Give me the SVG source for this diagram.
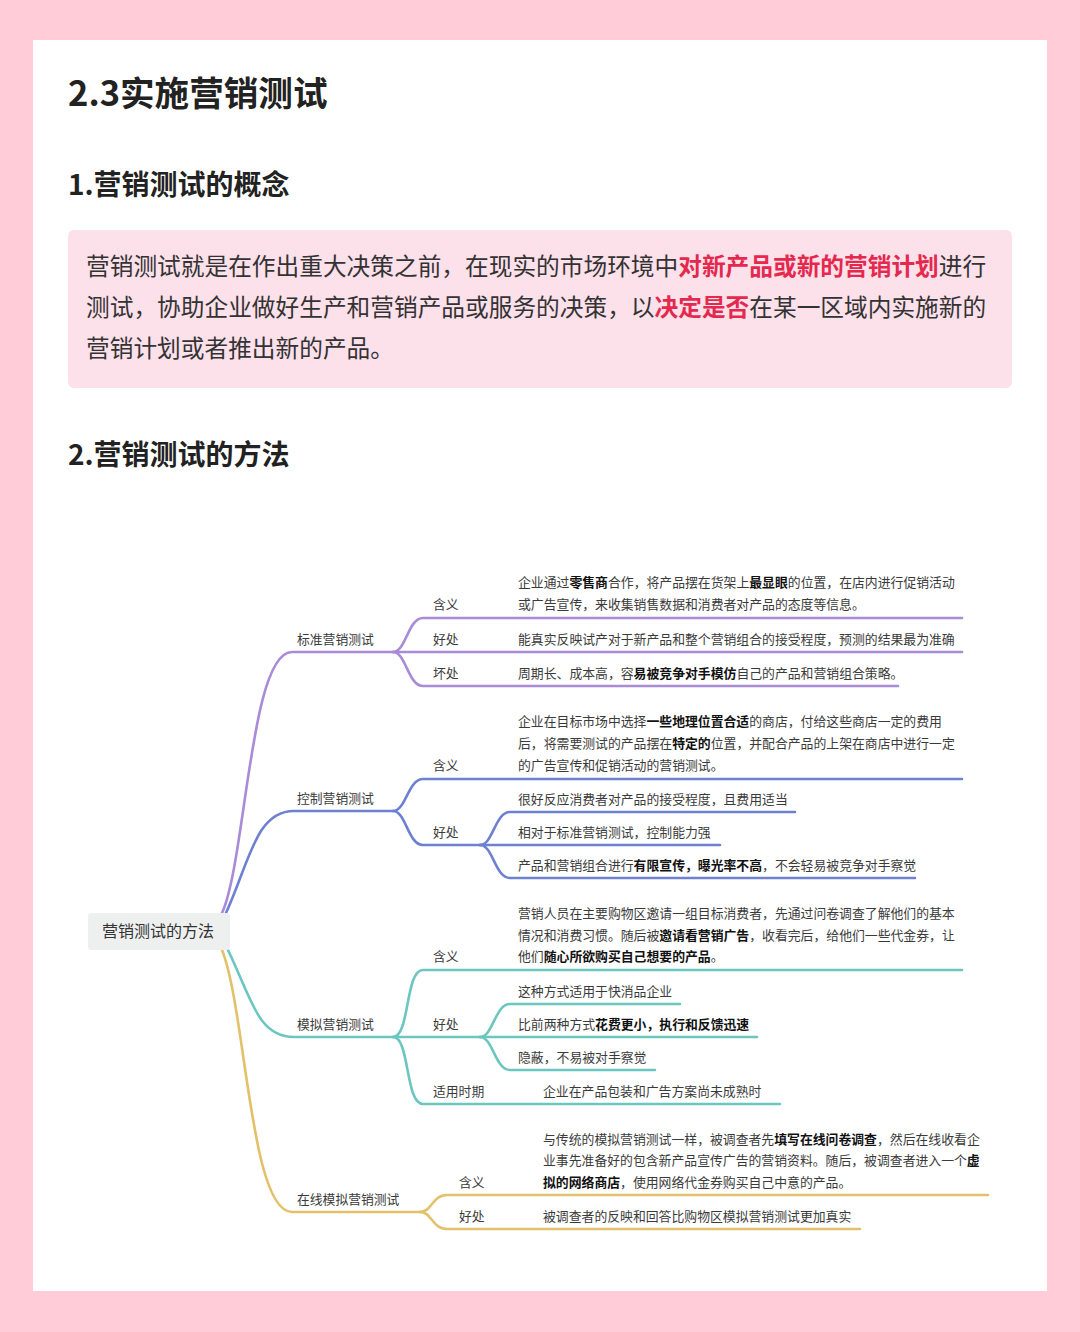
<svg xmlns="http://www.w3.org/2000/svg" width="1080" height="1332" viewBox="0 0 1080 1332">
<style>
.h1{font-family:"Noto Sans CJK SC","Noto Sans",sans-serif;font-weight:700;fill:#222}
.para{font-family:"Noto Sans CJK SC","Noto Sans",sans-serif;font-size:23.7px;fill:#333}
.red{fill:#E5284E;font-weight:700}
.t{font-family:"Noto Sans CJK SC","Noto Sans",sans-serif;font-size:12.85px;fill:#3a3a3a}
.lb{font-family:"Noto Sans CJK SC","Noto Sans",sans-serif;font-size:12.8px;fill:#3a3a3a}
.b{font-weight:700;fill:#111}
.ln{fill:none;stroke-width:2.6;stroke-linecap:round}
.pu{stroke:#A98BD8}.bl{stroke:#6E80D2}.te{stroke:#6CC6C0}.go{stroke:#E3C16B}
</style>
<rect x="0" y="0" width="1080" height="1332" fill="#FFCCD8"/>
<rect x="33" y="40" width="1014" height="1251" fill="#FFFFFF"/>
<g id="headings">
<text class="h1" x="68" y="106" font-size="34.6">2.3实施营销测试</text>
<text class="h1" x="68" y="195" font-size="28">1.营销测试的概念</text>
<text class="h1" x="68" y="465" font-size="28">2.营销测试的方法</text>
</g>
<g id="concept">
<rect x="68" y="230" width="944" height="158" rx="6" fill="#FCE0EA"/>
<text class="para" x="86" y="275">营销测试就是在作出重大决策之前，在现实的市场环境中<tspan class="red">对新产品或新的营销计划</tspan>进行</text>
<text class="para" x="86" y="316">测试，协助企业做好生产和营销产品或服务的决策，以<tspan class="red">决定是否</tspan>在某一区域内实施新的</text>
<text class="para" x="86" y="357">营销计划或者推出新的产品。</text>
</g>
<g id="connectors">
<path class="ln pu" d="M222,913 C246,860 250,652 292,652 L393,652"/>
<path class="ln pu" d="M393,652 C406,652 408,618 423,618 L962,618"/>
<path class="ln pu" d="M393,652 L962,652"/>
<path class="ln pu" d="M393,652 C406,652 408,686 423,686 L898,686"/>
<path class="ln bl" d="M226,913 C250,860 256,811 294,811 L393,811"/>
<path class="ln bl" d="M393,811 C406,811 408,779 423,779 L962,779"/>
<path class="ln bl" d="M393,811 C406,811 408,845 423,845 L480,845"/>
<path class="ln bl" d="M480,845 C493,845 495,812 510,812 L795,812"/>
<path class="ln bl" d="M480,845 L720,845"/>
<path class="ln bl" d="M480,845 C493,845 495,878 510,878 L915,878"/>
<path class="ln te" d="M228,950 C252,1000 258,1037 294,1037 L393,1037"/>
<path class="ln te" d="M393,1037 C410,1037 405,970 423,970 L962,970"/>
<path class="ln te" d="M393,1037 L480,1037"/>
<path class="ln te" d="M393,1037 C410,1037 405,1104 423,1104 L780,1104"/>
<path class="ln te" d="M480,1037 C493,1037 495,1004 510,1004 L680,1004"/>
<path class="ln te" d="M480,1037 L757,1037"/>
<path class="ln te" d="M480,1037 C493,1037 495,1070 510,1070 L655,1070"/>
<path class="ln go" d="M222,950 C246,1010 250,1212 292,1212 L420,1212"/>
<path class="ln go" d="M420,1212 C432,1212 432,1195 447,1195 L988,1195"/>
<path class="ln go" d="M420,1212 C432,1212 432,1229 447,1229 L860,1229"/>
</g>
<g id="root">
<rect x="88" y="913" width="142" height="37" rx="3" fill="#EEF0EF"/>
<text x="102" y="937" font-family="Noto Sans CJK SC, sans-serif" font-size="16" fill="#333">营销测试的方法</text>
</g>
<g id="standard">
<text class="lb" x="297" y="644">标准营销测试</text>
<text class="lb" x="433" y="609">含义</text>
<text class="t" x="518" y="587">企业通过<tspan class="b">零售商</tspan>合作，将产品摆在货架上<tspan class="b">最显眼</tspan>的位置，在店内进行促销活动</text>
<text class="t" x="518" y="609">或广告宣传，来收集销售数据和消费者对产品的态度等信息。</text>
<text class="lb" x="433" y="644">好处</text>
<text class="t" x="518" y="644">能真实反映试产对于新产品和整个营销组合的接受程度，预测的结果最为准确</text>
<text class="lb" x="433" y="678">坏处</text>
<text class="t" x="518" y="678">周期长、成本高，容<tspan class="b">易被竞争对手模仿</tspan>自己的产品和营销组合策略。</text>
</g>
<g id="control">
<text class="lb" x="297" y="803">控制营销测试</text>
<text class="lb" x="433" y="770">含义</text>
<text class="t" x="518" y="726">企业在目标市场中选择<tspan class="b">一些地理位置合适</tspan>的商店，付给这些商店一定的费用</text>
<text class="t" x="518" y="748">后，将需要测试的产品摆在<tspan class="b">特定的</tspan>位置，并配合产品的上架在商店中进行一定</text>
<text class="t" x="518" y="770">的广告宣传和促销活动的营销测试。</text>
<text class="lb" x="433" y="837">好处</text>
<text class="t" x="518" y="804">很好反应消费者对产品的接受程度，且费用适当</text>
<text class="t" x="518" y="837">相对于标准营销测试，控制能力强</text>
<text class="t" x="518" y="870">产品和营销组合进行<tspan class="b">有限宣传，曝光率不高</tspan>，不会轻易被竞争对手察觉</text>
</g>
<g id="simulated">
<text class="lb" x="297" y="1029">模拟营销测试</text>
<text class="lb" x="433" y="961">含义</text>
<text class="t" x="518" y="918">营销人员在主要购物区邀请一组目标消费者，先通过问卷调查了解他们的基本</text>
<text class="t" x="518" y="940">情况和消费习惯。随后被<tspan class="b">邀请看营销广告</tspan>，收看完后，给他们一些代金券，让</text>
<text class="t" x="518" y="961">他们<tspan class="b">随心所欲购买自己想要的产品</tspan>。</text>
<text class="lb" x="433" y="1029">好处</text>
<text class="t" x="518" y="996">这种方式适用于快消品企业</text>
<text class="t" x="518" y="1029">比前两种方式<tspan class="b">花费更小，执行和反馈迅速</tspan></text>
<text class="t" x="518" y="1062">隐蔽，不易被对手察觉</text>
<text class="lb" x="433" y="1096">适用时期</text>
<text class="t" x="543" y="1096">企业在产品包装和广告方案尚未成熟时</text>
</g>
<g id="online">
<text class="lb" x="297" y="1204">在线模拟营销测试</text>
<text class="lb" x="459" y="1187">含义</text>
<text class="t" x="543" y="1144">与传统的模拟营销测试一样，被调查者先<tspan class="b">填写在线问卷调查</tspan>，然后在线收看企</text>
<text class="t" x="543" y="1165">业事先准备好的包含新产品宣传广告的营销资料。随后，被调查者进入一个<tspan class="b">虚</tspan></text>
<text class="t" x="543" y="1187"><tspan class="b">拟的网络商店</tspan>，使用网络代金券购买自己中意的产品。</text>
<text class="lb" x="459" y="1221">好处</text>
<text class="t" x="543" y="1221">被调查者的反映和回答比购物区模拟营销测试更加真实</text>
</g>
</svg>
